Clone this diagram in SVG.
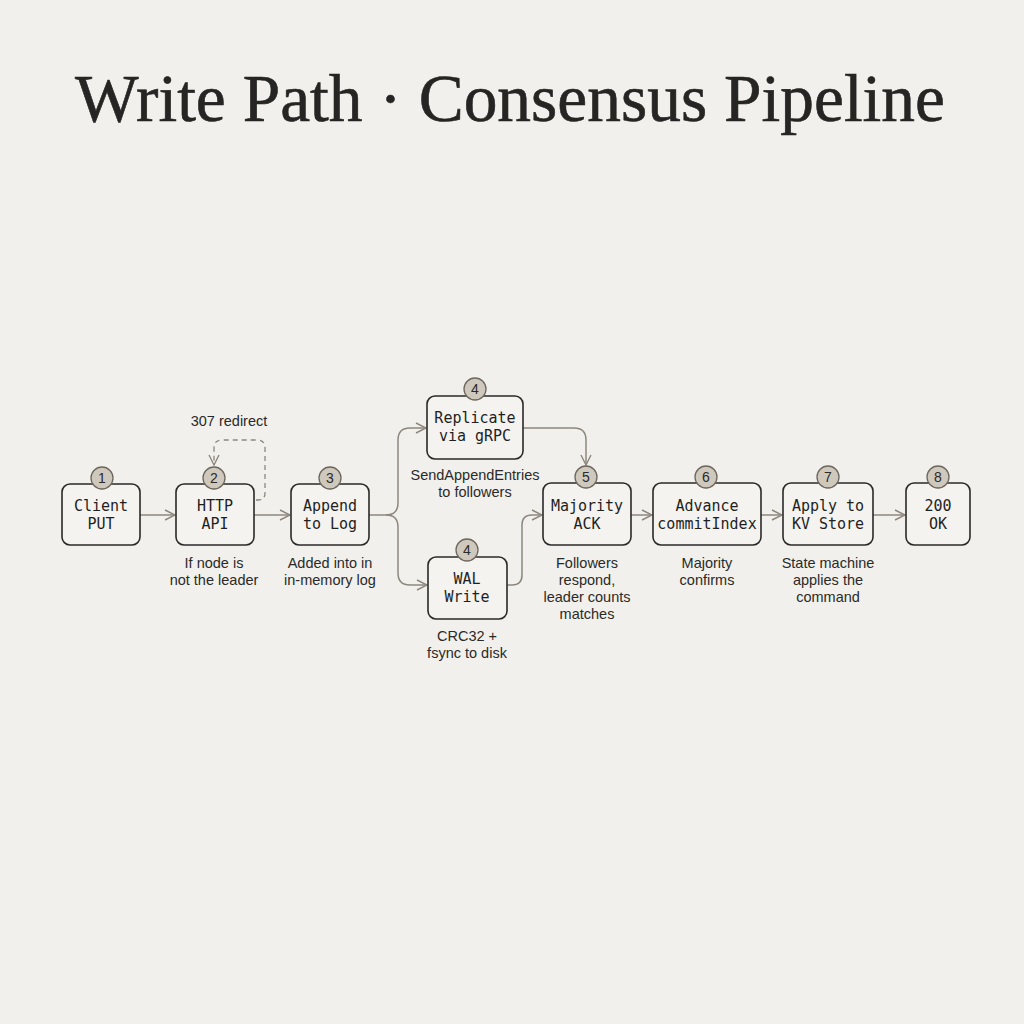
<svg xmlns="http://www.w3.org/2000/svg" width="1024" height="1024" viewBox="0 0 1024 1024">
<defs>
<style>
.node{fill:#f4f3ef;stroke:#2b2a28;stroke-width:1.6}
.badge{fill:#cfc8bd;stroke:#6e675e;stroke-width:1.3}
.bt{font-family:"Liberation Sans",Arial,sans-serif;font-size:14px;fill:#2b2a28;text-anchor:middle}
.nt{font-family:"DejaVu Sans Mono","Liberation Mono",monospace;font-size:15px;fill:#1f1f1f;text-anchor:middle}
.lb{font-family:"Liberation Sans",Arial,sans-serif;font-size:14.5px;fill:#2b2a28;text-anchor:middle}
.c{fill:none;stroke:#8d877e;stroke-width:1.5}
.d{fill:none;stroke:#8d877e;stroke-width:1.3;stroke-dasharray:5 4}
</style>
<marker id="ah" viewBox="0 0 12 12" refX="11" refY="6" markerWidth="12" markerHeight="12" markerUnits="userSpaceOnUse" orient="auto">
<path d="M1,1 L11,6 L1,11" fill="none" stroke="#8d877e" stroke-width="1.4"/>
</marker>
</defs>
<rect width="1024" height="1024" fill="#f1f0ec"/>
<text x="510" y="121" font-family="Liberation Serif,'Times New Roman',serif" font-size="68" fill="#262523" stroke="#262523" stroke-width="0.6" text-anchor="middle" textLength="870" lengthAdjust="spacingAndGlyphs">Write Path · Consensus Pipeline</text>

<g id="connectors">
<path class="c" d="M140,515 H175" marker-end="url(#ah)"/>
<path class="c" d="M254,515 H290" marker-end="url(#ah)"/>
<path class="c" d="M369,515 H386 Q398,515 398,503 V440 Q398,428 410,428 H426" marker-end="url(#ah)"/>
<path class="c" d="M386,515 Q398,515 398,527 V573 Q398,585 410,585 H427" marker-end="url(#ah)"/>
<path class="c" d="M523,428 H574 Q586,428 586,440 V465" marker-end="url(#ah)"/>
<path class="c" d="M507,585 H512 Q522,585 522,575 V525 Q522,515 532,515 H542" marker-end="url(#ah)"/>
<path class="c" d="M631,515 H652" marker-end="url(#ah)"/>
<path class="c" d="M761,515 H782" marker-end="url(#ah)"/>
<path class="c" d="M873,515 H905" marker-end="url(#ah)"/>
<path class="d" d="M256,500 H258 Q265,500 265,493 V448 Q265,440 257,440 H222 Q214,440 214,448 V465" marker-end="url(#ah)"/>
</g>

<g id="n1"><rect class="node" x="62" y="484" width="78" height="61" rx="8"/><circle class="badge" cx="102" cy="478" r="11"/><text class="bt" x="102" y="483">1</text><text class="nt" x="101" y="511">Client</text><text class="nt" x="101" y="529">PUT</text></g>
<g id="n2"><rect class="node" x="176" y="484" width="78" height="61" rx="8"/><circle class="badge" cx="214" cy="478" r="11"/><text class="bt" x="214" y="483">2</text><text class="nt" x="215" y="511">HTTP</text><text class="nt" x="215" y="529">API</text>
<text class="lb" x="214" y="568">If node is</text><text class="lb" x="214" y="585">not the leader</text></g>
<text class="lb" x="229" y="426">307 redirect</text>
<g id="n3"><rect class="node" x="291" y="484" width="78" height="61" rx="8"/><circle class="badge" cx="330" cy="478" r="11"/><text class="bt" x="330" y="483">3</text><text class="nt" x="330" y="511">Append</text><text class="nt" x="330" y="529">to Log</text>
<text class="lb" x="330" y="568">Added into in</text><text class="lb" x="330" y="585">in-memory log</text></g>
<g id="n4a"><rect class="node" x="427" y="396" width="96" height="63" rx="8"/><circle class="badge" cx="475" cy="389" r="11"/><text class="bt" x="475" y="394">4</text><text class="nt" x="475" y="423">Replicate</text><text class="nt" x="475" y="441">via gRPC</text>
<text class="lb" x="475" y="480">SendAppendEntries</text><text class="lb" x="475" y="497">to followers</text></g>
<g id="n4b"><rect class="node" x="428" y="557" width="79" height="62" rx="8"/><circle class="badge" cx="467" cy="550" r="11"/><text class="bt" x="467" y="555">4</text><text class="nt" x="467" y="584">WAL</text><text class="nt" x="467" y="602">Write</text>
<text class="lb" x="467" y="641">CRC32 +</text><text class="lb" x="467" y="658">fsync to disk</text></g>
<g id="n5"><rect class="node" x="543" y="483" width="88" height="62" rx="8"/><circle class="badge" cx="586" cy="477" r="11"/><text class="bt" x="586" y="482">5</text><text class="nt" x="587" y="511">Majority</text><text class="nt" x="587" y="529">ACK</text>
<text class="lb" x="587" y="568">Followers</text><text class="lb" x="587" y="585">respond,</text><text class="lb" x="587" y="602">leader counts</text><text class="lb" x="587" y="619">matches</text></g>
<g id="n6"><rect class="node" x="653" y="483" width="108" height="62" rx="8"/><circle class="badge" cx="706" cy="477" r="11"/><text class="bt" x="706" y="482">6</text><text class="nt" x="707" y="511">Advance</text><text class="nt" x="707" y="529">commitIndex</text>
<text class="lb" x="707" y="568">Majority</text><text class="lb" x="707" y="585">confirms</text></g>
<g id="n7"><rect class="node" x="783" y="483" width="90" height="62" rx="8"/><circle class="badge" cx="828" cy="477" r="11"/><text class="bt" x="828" y="482">7</text><text class="nt" x="828" y="511">Apply to</text><text class="nt" x="828" y="529">KV Store</text>
<text class="lb" x="828" y="568">State machine</text><text class="lb" x="828" y="585">applies the</text><text class="lb" x="828" y="602">command</text></g>
<g id="n8"><rect class="node" x="906" y="483" width="64" height="62" rx="8"/><circle class="badge" cx="938" cy="477" r="11"/><text class="bt" x="938" y="482">8</text><text class="nt" x="938" y="511">200</text><text class="nt" x="938" y="529">OK</text></g>
</svg>
